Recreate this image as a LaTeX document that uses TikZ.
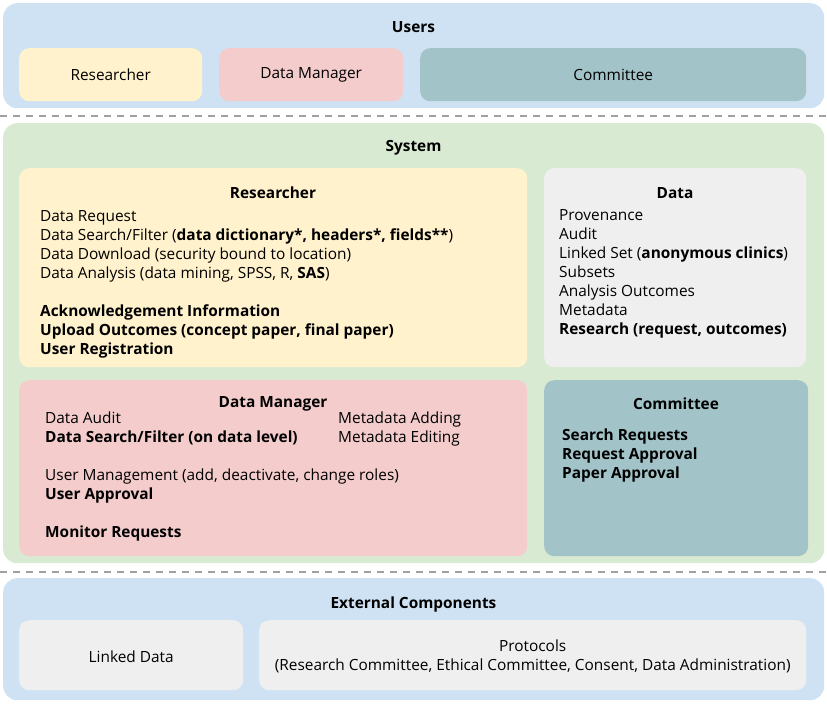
\documentclass[tikz,border=0pt]{standalone}
\usepackage{fontspec}
\setmainfont{Open Sans}
\usetikzlibrary{positioning}

\definecolor{userblue}{HTML}{CFE2F3}
\definecolor{sysgreen}{HTML}{D9EAD3}
\definecolor{resyellow}{HTML}{FFF2CC}
\definecolor{manred}{HTML}{F4CCCC}
\definecolor{comteal}{HTML}{A2C4C9}
\definecolor{datagrey}{HTML}{EFEFEF}
\definecolor{sepgrey}{HTML}{A0A0A0}

\tikzset{
	outerbox/.style={rounded corners=14pt, inner sep=0pt, anchor=north west},
	innerbox/.style={rounded corners=10pt, inner sep=0pt, anchor=north west},
	heading/.style={font=\fontsize{15.4}{19}\selectfont\bfseries},
	items/.style={align=left, anchor=north west, inner sep=0pt},
	sepline/.style={sepgrey, line width=1.6pt, dash pattern=on 7pt off 6pt},
}

\begin{document}
\begin{tikzpicture}[x=1pt, y=-1pt, font=\fontsize{15.4}{19}\selectfont]
			\useasboundingbox (0,0) rectangle (827,707);
			% users
			\node[outerbox, fill=userblue, minimum width=821pt, minimum height=105pt] (users) at (3,3) {};
			\node[heading] (userstitle) at (413.5,27) {Users};
			\node[innerbox, fill=resyellow, minimum width=183pt, minimum height=53pt] (ures) at (19,48) {};
			\node at (ures.center) (uresl) {Researcher};
			\node[innerbox, fill=manred, minimum width=184pt, minimum height=53pt] (uman) at (219,48) {};
			\node at (uman.center) (umanl) {Data Manager};
			\node[innerbox, fill=comteal, minimum width=386pt, minimum height=53pt] (ucom) at (420,48) {};
			\node at (ucom.center) (ucoml) {Committee};
			\coordinate (sepAl) at (0,116);
			\coordinate (sepAr) at (827,116);
			\draw[sepline] (sepAl) -- (sepAr);
			% system
			\node[outerbox, fill=sysgreen, minimum width=821pt, minimum height=440pt] (sys) at (3,123) {};
			\node[heading] (systitle) at (413.5,148) {System};
			\node[innerbox, fill=resyellow, minimum width=508pt, minimum height=199pt] (sres) at (19,168) {};
			\node[heading] (srestitle) at (273,193) {Researcher};
			\node[items] (sresitems) at (40,210) {Data Request\\
				Data Search/Filter (\textbf{data dictionary*, headers*, fields**})\\
				Data Download (security bound to location)\\
				Data Analysis (data mining, SPSS, R, \textbf{SAS})\\[19pt]
				\textbf{Acknowledgement Information}\\
				\textbf{Upload Outcomes (concept paper, final paper)}\\
				\textbf{User Registration}};
			\node[innerbox, fill=datagrey, minimum width=262pt, minimum height=199pt] (sdata) at (544,168) {};
			\node[heading] (sdatatitle) at (675,193) {Data};
			\node[items] (sdataitems) at (559,209) {Provenance\\
				Audit\\
				Linked Set (\textbf{anonymous clinics})\\
				Subsets\\
				Analysis Outcomes\\
				Metadata\\
				\textbf{Research (request, outcomes)}};
			\node[innerbox, fill=manred, minimum width=508pt, minimum height=176pt] (sman) at (19,380) {};
			\node[heading] (smantitle) at (273,404) {Data Manager};
			\node[items] (smanleft) at (45,411.5) {Data Audit\\
				\textbf{Data Search/Filter (on data level)}\\[19pt]
				User Management (add, deactivate, change roles)\\
				\textbf{User Approval}\\[19pt]
				\textbf{Monitor Requests}};
			\node[items] (smanright) at (338,411.5) {Metadata Adding\\
				Metadata Editing};
			\node[innerbox, fill=comteal, minimum width=264pt, minimum height=176pt] (scom) at (544,380) {};
			\node[heading] (scomtitle) at (676,404) {Committee};
			\node[items, font=\fontsize{15.4}{19}\selectfont\bfseries] (scomitems) at (562,428.5) {Search Requests\\
				Request Approval\\
				Paper Approval};
			\coordinate (sepBl) at (0,572);
			\coordinate (sepBr) at (827,572);
			\draw[sepline] (sepBl) -- (sepBr);
			% external
			\node[outerbox, fill=userblue, minimum width=821pt, minimum height=122pt] (ext) at (3,578) {};
			\node[heading] (exttitle) at (413.5,604) {External Components};
			\node[innerbox, fill=datagrey, minimum width=224pt, minimum height=70pt] (elink) at (19,620) {};
			\node[yshift=-1.5pt] at (elink.center) (elinkl) {Linked Data};
			\node[innerbox, fill=datagrey, minimum width=547pt, minimum height=70pt] (eprot) at (259,620) {};
			\node[align=center, yshift=-1.5pt] at (eprot.center) (eprotl) {Protocols\\
				(Research Committee, Ethical Committee, Consent, Data Administration)};
			\end{tikzpicture}
\end{document}
